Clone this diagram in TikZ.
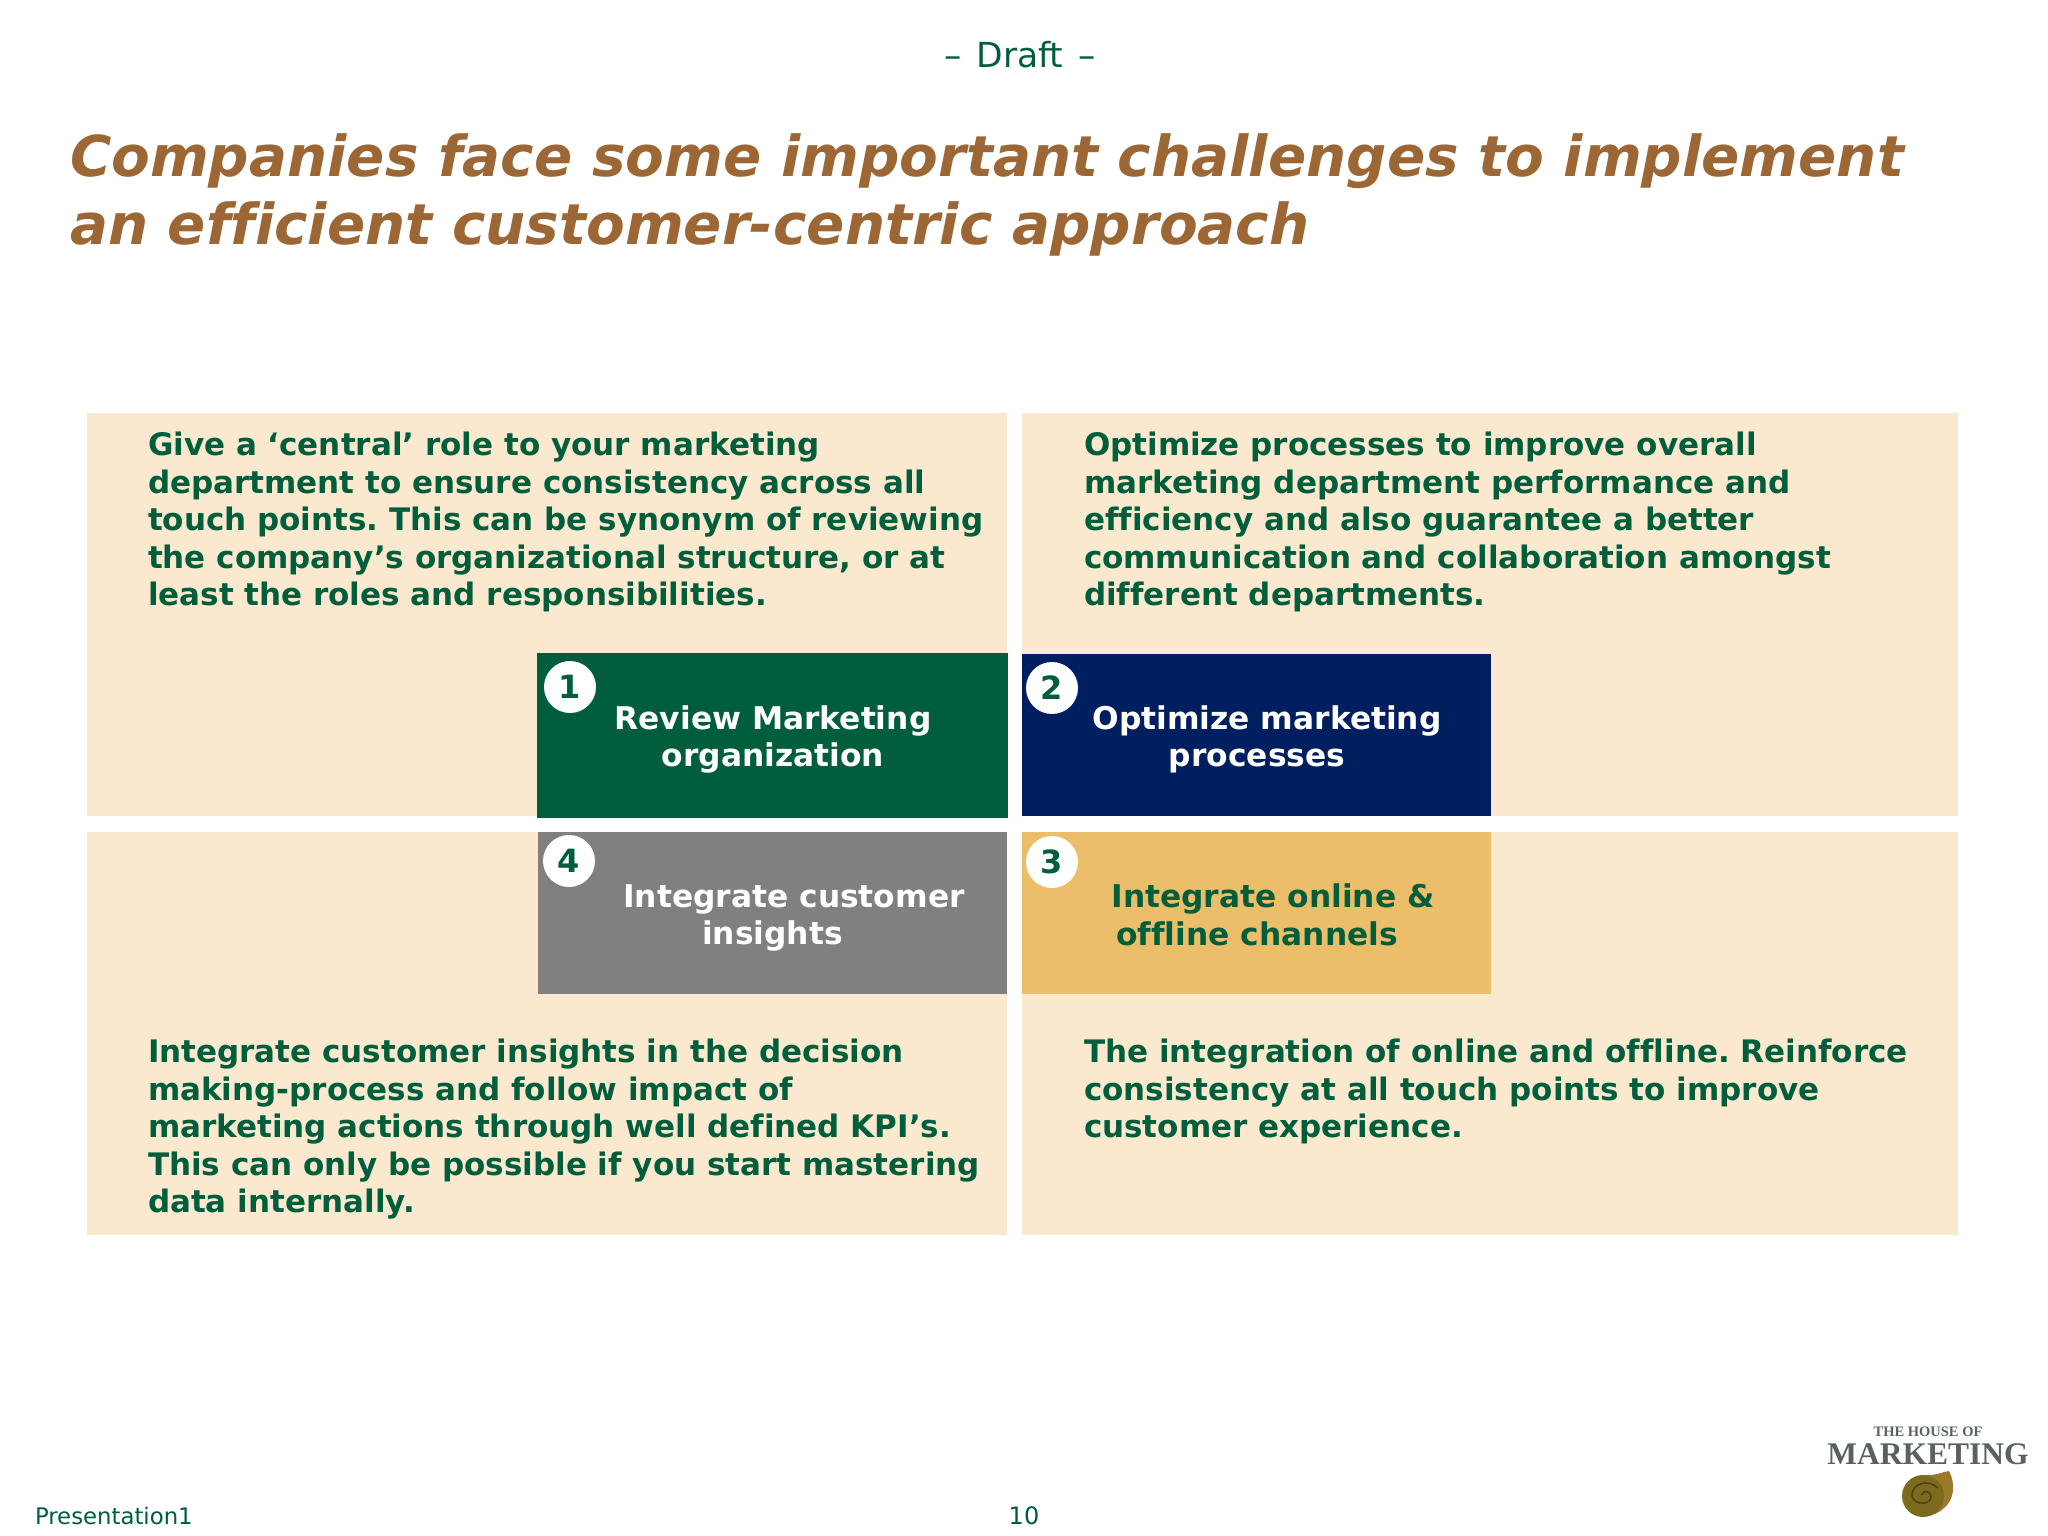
\documentclass[tikz,border=0pt]{standalone}
\usepackage{fontspec}
\setmainfont[Ligatures=CommonOff]{DejaVu Sans}
\usetikzlibrary{positioning}
\definecolor{hmgreen}{HTML}{005E3C}
\definecolor{hmnavy}{HTML}{001F60}
\definecolor{hmgrey}{HTML}{808080}
\definecolor{hmgold}{HTML}{EDBE69}
\definecolor{hmcream}{HTML}{FAE9CF}
\definecolor{hmbrown}{HTML}{9C6734}
\definecolor{hmlogo}{HTML}{59625F}
\definecolor{hmshell}{HTML}{7C6B1E}
\definecolor{hmlobe}{HTML}{9A7A28}
\begin{document}
\begin{tikzpicture}[x=1pt,y=-1pt]
      \tikzstyle{every node}=[inner sep=0pt,outer sep=0pt,text=hmgreen]
      \tikzstyle{panel}=[fill=hmcream,anchor=north west,minimum height=403]
      \tikzstyle{tagbox}=[anchor=north west,minimum width=469,minimum height=162]
      \tikzstyle{badge}=[circle,fill=white,minimum size=52,font=\fontsize{32}{32}\selectfont\bfseries]
      \tikzstyle{bodytext}=[anchor=north west,align=left,font=\fontsize{31}{37.6}\selectfont\bfseries\frenchspacing]
      \tikzstyle{tagtext}=[align=center,font=\fontsize{31.3}{37.6}\selectfont\bfseries]
      \useasboundingbox (0,0) rectangle (2048,1536);
      % 
      \node (draft) at (1020,55) {\fontsize{34.5}{34.5}\selectfont –\hspace{4pt} Draft \hspace{4pt}–};
      \node (title) [anchor=north west,align=left,text=hmbrown,font=\fontsize{56.4}{68}\selectfont\bfseries\itshape]
            at (70,134) {Companies face some important challenges to implement\\an efficient customer-centric approach};
      % 
      \node [panel,minimum width=920] (p1) at (87,413) {};
      \node [panel,minimum width=936] (p2) at (1022,413) {};
      \node [panel,minimum width=920] (p4) at (87,832) {};
      \node [panel,minimum width=936] (p3) at (1022,832) {};
      % 
      \node [tagbox,fill=hmgreen,minimum width=471,minimum height=165] (b1) at (537,653) {};
      \node [tagbox,fill=hmnavy,minimum height=162] (b2) at (1022,654) {};
      \node [tagbox,fill=hmgold] (b3) at (1022,832) {};
      \node [tagbox,fill=hmgrey] (b4) at (538,832) {};
      % 
      \node [badge] (n1) at (570,687) {1};
      \node [badge] (n2) at (1052,688) {2};
      \node [badge] (n3) at (1052,862) {3};
      \node [badge] (n4) at (569,861) {4};
      % 
      \node [tagtext,text=white] (l1) at (773,739.5) {Review Marketing\\organization};
      \node [tagtext,text=white] (l2) at (1267,739.5) {Optimize marketing\\\hspace*{-20pt}processes};
      \node [tagtext] (l3) at (1273,915) {Integrate online \&\\\hspace*{-32pt}offline channels};
      \node [tagtext,text=white] (l4) at (794,918) {Integrate customer\\\hspace*{-43pt}insights};
      % 
      \node [bodytext] (t1) at (148,432) {Give a ‘central’ role to your marketing\\department to ensure consistency across all\\touch points. This can be synonym of reviewing\\the company’s organizational structure, or at\\least the roles and responsibilities.};
      \node [bodytext] (t2) at (1084,432) {Optimize processes to improve overall\\marketing department performance and\\efficiency and also guarantee a better\\communication and collaboration amongst\\different departments.};
      \node [bodytext] (t4) at (148,1039) {Integrate customer insights in the decision\\making-process and follow impact of\\marketing actions through well defined KPI’s.\\This can only be possible if you start mastering\\data internally.};
      \node [bodytext] (t3) at (1084,1039) {The integration of online and offline. Reinforce\\consistency at all touch points to improve\\customer experience.};
      % 
      \node [anchor=west,font=\fontsize{22.8}{22.8}\selectfont] (doc) at (35,1516) {Presentation1};
      \node [font=\fontsize{24}{24}\selectfont] (page) at (1024,1516) {10};
      % 
      \node [text=hmlogo,font=\fontspec{Liberation Serif}\bfseries\fontsize{14.5}{14.5}\selectfont] (house) at (1928,1432) {THE HOUSE OF};
      \node [text=hmlogo,font=\fontspec{Liberation Serif}\bfseries\fontsize{31.5}{31.5}\selectfont] (mark) at (1928,1454) {MARKETING};
      \fill [hmlobe] (1925,1475) .. controls (1934,1476) and (1942,1472) .. (1949,1471)
            .. controls (1956,1484) and (1954,1500) .. (1944,1508)
            .. controls (1938,1514) and (1928,1517) .. (1920,1516) -- cycle;
      \fill [hmshell] (1923,1496) circle [radius=21];
      \draw [hmshell!60!black,line width=1.5] (1922,1495) .. controls (1922,1490) and (1930,1490) .. (1931,1496)
            .. controls (1932,1505) and (1914,1506) .. (1912,1496)
            .. controls (1911,1484) and (1928,1478) .. (1938,1488);
\end{tikzpicture}
\end{document}
